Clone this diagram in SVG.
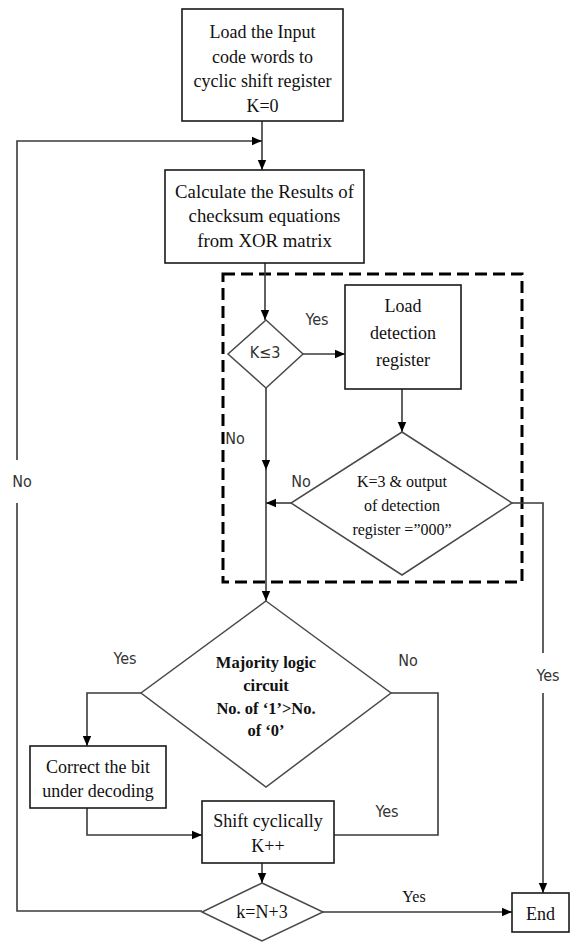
<svg xmlns="http://www.w3.org/2000/svg" width="576" height="944" viewBox="0 0 576 944">
<style>
.box{fill:#fff;stroke:#1a1a1a;stroke-width:1.6}
.dia{fill:#fff;stroke:#4a4a4a;stroke-width:1.5}
.t{font-family:"Liberation Serif","Times New Roman",serif;font-size:18px;fill:#111;text-anchor:middle}
.ts{font-size:16px}
.tl{font-size:18.8px}
.tb{font-weight:bold;font-size:16.5px}
.lbl{font-family:"Liberation Sans Narrow","Arial Narrow","DejaVu Sans Condensed","Liberation Sans",sans-serif;font-size:16px;fill:#333;text-anchor:middle}
.c{fill:none;stroke:#3a3a3a;stroke-width:1.6}
.ca{fill:none;stroke:#3a3a3a;stroke-width:1.6;marker-end:url(#ah)}
.dash{fill:none;stroke:#000;stroke-width:3;stroke-dasharray:12 6}
</style>
<defs>
<marker id="ah" markerUnits="userSpaceOnUse" markerWidth="10" markerHeight="10" viewBox="0 0 10 10" refX="10" refY="5" orient="auto">
<path d="M0,0.8 L10,5 L0,9.2 Z" fill="#000"/>
</marker>
</defs>

<rect id="detection-region" class="dash" x="223" y="274" width="299" height="308"/>

<g id="connectors">
<path class="ca" d="M262,121 V170"/>
<path class="ca" d="M17,460 V141 H262"/>
<path class="c" d="M202,911 H17 V503"/>
<path class="ca" d="M265,263 V320"/>
<path class="ca" d="M303,354 H345"/>
<path class="ca" d="M402,389 V432"/>
<path class="ca" d="M266,388 V470"/>
<path class="ca" d="M266,468 V601"/>
<path class="ca" d="M291,503 H266"/>
<path class="c" d="M512,503 H543 V653"/>
<path class="ca" d="M543,693 V893"/>
<path class="ca" d="M141,693 H87 V746"/>
<path class="c" d="M391,693 H438 V835 H334"/>
<path class="ca" d="M87,808 V835 H202"/>
<path class="ca" d="M262,863 V883"/>
<path class="ca" d="M323,912 H512"/>
</g>

<g id="labels">
<text class="lbl" x="22" y="487">No</text>
<text class="lbl" x="317" y="325">Yes</text>
<text class="lbl" x="235" y="444">No</text>
<text class="lbl" x="301" y="487">No</text>
<text class="lbl" x="125" y="664">Yes</text>
<text class="lbl" x="408" y="666">No</text>
<text class="lbl" x="387" y="817">Yes</text>
<text class="lbl" x="548" y="681">Yes</text>
<text class="t ts" x="414" y="902">Yes</text>
</g>

<g id="load-input">
<rect class="box" x="182" y="9" width="161" height="112"/>
<text class="t" x="262.5" y="38">Load the Input</text>
<text class="t" x="262.5" y="63">code words to</text>
<text class="t" x="262.5" y="87">cyclic shift register</text>
<text class="t" x="262.5" y="112">K=0</text>
</g>

<g id="calculate">
<rect class="box" x="165" y="170" width="199" height="93"/>
<text class="t tl" x="264.5" y="198">Calculate the Results of</text>
<text class="t tl" x="264.5" y="222">checksum equations</text>
<text class="t tl" x="264.5" y="247">from XOR matrix</text>
</g>

<g id="k-le-3">
<polygon class="dia" points="266,320 303,354 266,388 228,354"/>
<text class="lbl" x="265" y="358">K≤3</text>
</g>

<g id="load-detection">
<rect class="box" x="345" y="285" width="116" height="104"/>
<text class="t" x="403" y="312">Load</text>
<text class="t" x="403" y="339">detection</text>
<text class="t" x="403" y="366">register</text>
</g>

<g id="k-eq-3">
<polygon class="dia" points="402,432 512,503 402,575 291,503"/>
<text class="t ts" x="402" y="487">K=3 &amp; output</text>
<text class="t ts" x="402" y="511">of detection</text>
<text class="t ts" x="402" y="535">register =”000”</text>
</g>

<g id="majority">
<polygon class="dia" points="266,601 391,693 266,787 141,693"/>
<text class="t tb" x="266" y="668">Majority logic</text>
<text class="t tb" x="266" y="691">circuit</text>
<text class="t tb" x="266" y="714">No. of ‘1’&gt;No.</text>
<text class="t tb" x="266" y="736">of ‘0’</text>
</g>

<g id="correct">
<rect class="box" x="30" y="746" width="136" height="62"/>
<text class="t" x="98" y="773">Correct the bit</text>
<text class="t" x="98" y="797">under decoding</text>
</g>

<g id="shift">
<rect class="box" x="202" y="801" width="132" height="62"/>
<text class="t" x="268" y="827">Shift cyclically</text>
<text class="t" x="268" y="852">K++</text>
</g>

<g id="k-eq-n3">
<polygon class="dia" points="262,883 323,912 262,941 202,912"/>
<text class="t" x="262" y="918">k=N+3</text>
</g>

<g id="end">
<rect class="box" x="512" y="893" width="57" height="39"/>
<text class="t" x="540.5" y="920">End</text>
</g>
</svg>
